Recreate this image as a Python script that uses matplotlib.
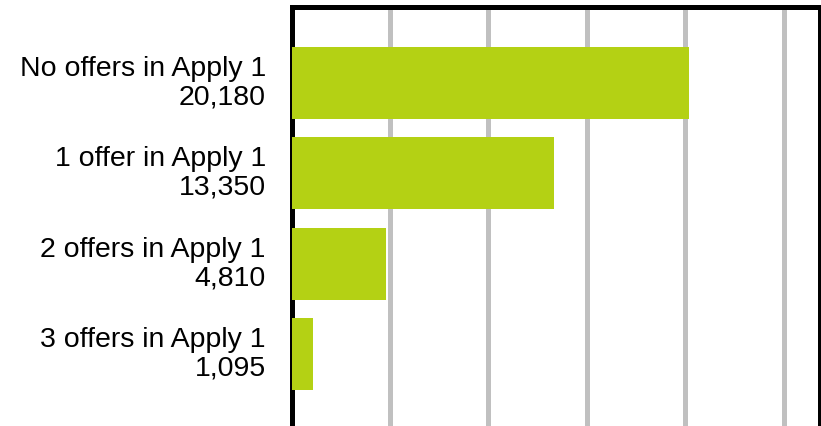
import matplotlib.pyplot as plt
from matplotlib.transforms import ScaledTranslation

categories = ["No offers in Apply 1", "1 offer in Apply 1", "2 offers in Apply 1", "3 offers in Apply 1"]
values = [20180, 13350, 4810, 1095]

W, H = 821, 427
fig = plt.figure(figsize=(W / 100, H / 100), dpi=100)
# axes box: left spine ~291px, top ~8px, runs past the bottom edge
ax = fig.add_axes([291.5 / W, -10 / H, (820 - 291.5) / W, (437 - 8) / H])

labels = [c + "\n" + format(v, ",") for c, v in zip(categories, values)]
pos = list(range(len(values)))
ax.barh(pos, values, height=0.8, color="#b4d114", zorder=3)

ax.set_xlim(0, 26830)
ax.set_ylim(3 + (437 - 355) / 90.5, -76 / 90.5)
ax.set_xticks([5000, 10000, 15000, 20000, 25000])
ax.xaxis.grid(True, color="#c0c0c0", linewidth=3.6, zorder=0)
ax.set_axisbelow(True)
ax.tick_params(axis="x", length=0, labelbottom=False)
ax.tick_params(axis="y", length=0, pad=18.5)
ax.set_yticks(pos)
ax.set_yticklabels(labels, fontsize=20.5, family="Liberation Sans", ha="right", linespacing=1.12)

# nudge labels up a few pixels
shift = ScaledTranslation(0, 5 / 100, fig.dpi_scale_trans)
for t in ax.get_yticklabels():
    t.set_transform(t.get_transform() + shift)

for s in ax.spines.values():
    s.set_linewidth(3.6)
    s.set_color("black")
ax.spines["bottom"].set_visible(False)

fig.savefig("out.png", dpi=100)
